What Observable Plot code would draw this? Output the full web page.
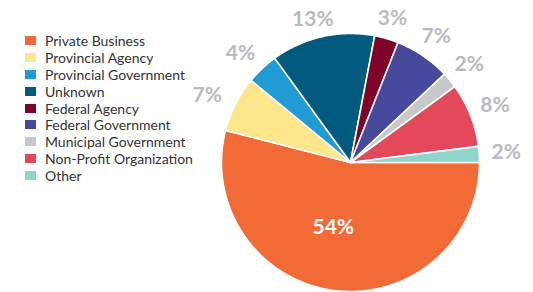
<!DOCTYPE html>
<html>
<head>
<meta charset="utf-8">
<script src="https://cdn.jsdelivr.net/npm/d3@7"></script>
<script src="https://cdn.jsdelivr.net/npm/@observablehq/plot@0.6"></script>
<style>
  html, body { margin: 0; padding: 0; background: #fff; }
  #wrap { position: relative; width: 533px; height: 292px; overflow: hidden; }
  #legend { position: absolute; left: 25px; top: 32px; }
  .lg-swatches { font-family: Lato, sans-serif !important; font-size: 14px !important; color: #333 !important; margin: 0 !important; min-height: 0 !important; }
  .lg-swatch { height: 16.9px !important; padding: 0 !important; margin: 0 !important; display: flex !important; align-items: center !important; }
  .lg-swatch svg { margin-right: 9px !important; }
</style>
</head>
<body>
<div id="wrap"><div id="chart"></div><div id="legend"></div></div>
<script>
const categories = ["Private Business", "Provincial Agency", "Provincial Government", "Unknown", "Federal Agency", "Federal Government", "Municipal Government", "Non-Profit Organization", "Other"];
const values = [54, 7, 4, 13, 3, 7, 2, 8, 2];
const labels = ["54%", "7%", "4%", "13%", "3%", "7%", "2%", "8%", "2%"];
const colors = ["#f26a36", "#fde68c", "#219bd4", "#025b7f", "#800329", "#474a9c", "#c7c8ca", "#e24a5b", "#8ed4c9"];

const R = 129;
const arcs = d3.pie().sort(null).startAngle(Math.PI / 2).endAngle(Math.PI / 2 + 2 * Math.PI)(values);

const pts = [];
arcs.forEach((a, i) => {
  const cat = categories[i];
  pts.push({cat, x: 0, y: 0});
  const n = Math.max(2, Math.ceil((a.endAngle - a.startAngle) / 0.01));
  for (let k = 0; k <= n; k++) {
    const t = a.startAngle + (a.endAngle - a.startAngle) * k / n;
    pts.push({cat, x: R * Math.sin(t), y: R * Math.cos(t)});
  }
});

const outer = [], inner = [];
arcs.forEach((a, i) => {
  const m = (a.startAngle + a.endAngle) / 2;
  if (i === 0) inner.push({x: 66 * Math.sin(m) - 9, y: 66 * Math.cos(m) + 1, text: labels[i]});
  else {
    const s = Math.sin(m);
    const r = 148 + 8 * Math.abs(s);
    const left = s < 0;
    outer.push({x: r * s - (left ? 5 : 0), y: r * Math.cos(m) - (left ? 3 : 0), text: labels[i]});
  }
});

const chart = Plot.plot({
  width: 533,
  height: 292,
  margin: 0,
  style: {background: "transparent", fontFamily: "Lato, sans-serif"},
  x: {domain: [-350, 183], axis: null},
  y: {domain: [-130, 162], axis: null},
  color: {domain: categories, range: colors},
  marks: [
    Plot.line(pts, {x: "x", y: "y", z: "cat", fill: "cat", stroke: "white", strokeWidth: 1.6, curve: "linear-closed"}),
    Plot.text(outer, {x: "x", y: "y", text: "text", fill: "#b9bac4", fontSize: 21, fontWeight: 700}),
    Plot.text(inner, {x: "x", y: "y", text: "text", fill: "white", fontSize: 21, fontWeight: 700})
  ]
});
document.getElementById("chart").appendChild(chart);

const legend = Plot.legend({
  color: {domain: categories, range: colors},
  legend: "swatches",
  columns: 1,
  swatchWidth: 11,
  swatchHeight: 9,
  className: "lg"
});
document.getElementById("legend").appendChild(legend);
</script>
</body>
</html>
